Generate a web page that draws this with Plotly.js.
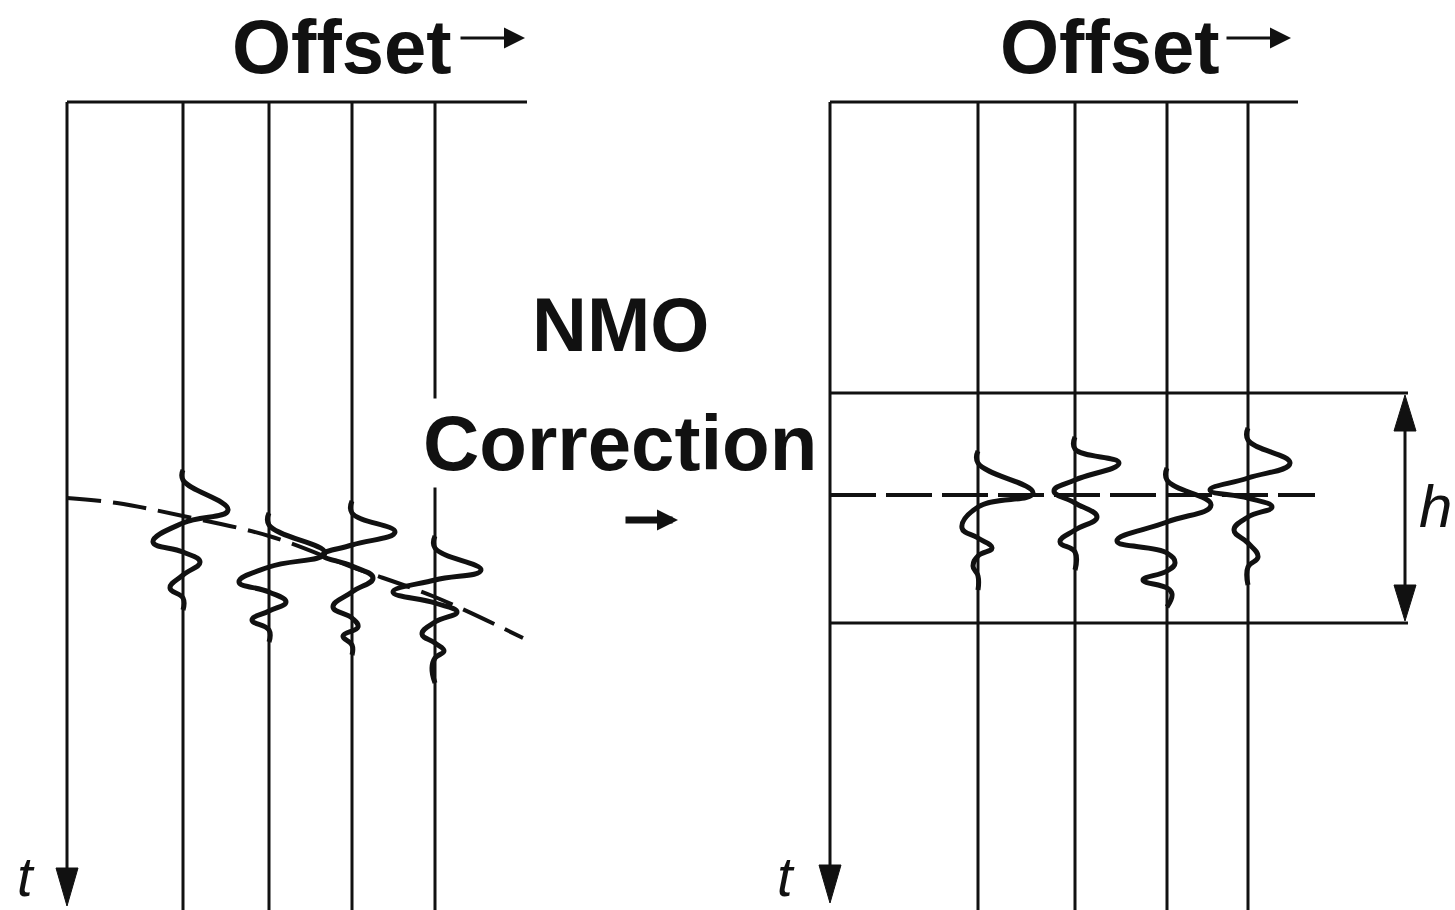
<!DOCTYPE html>
<html><head><meta charset="utf-8">
<script src="https://cdn.plot.ly/plotly-3.0.1.min.js"></script>
<style>html,body{margin:0;padding:0;background:#fff}#chart{width:1455px;height:910px}</style>
</head><body><div id="chart"></div>
<script>
// ================= DATA =================
// Offsets of the four receiver traces (same units as the offset axis)
const leftTraceOffsets  = [116, 202, 285, 368];
const rightTraceOffsets = [148, 245, 337, 418];
const leftOffsetMax  = 460;
const rightOffsetMax = 468;
const timeMax = 808;
const timeArrowTip = [804, 801];

// Left (before NMO): hyperbolic reflection event (dashed)
const leftEventOffsets = [0, 50, 116, 202, 285, 368, 456];
const leftEventTimes   = [396, 401, 414, 434, 465, 495, 536];

// Right (after NMO): flat event and the time window h
const rightEventTime = 393;
const rightEventEnd  = 485;
const windowTop = 291;
const windowBottom = 521;
const windowEnd = 578;
const windowArrowOffset = 575;

// Wavelet key points: times and amplitudes for each trace
const leftWaveTimes = [
  [368,378,408,421,440,450,460,473,486,496,508],
  [411,423,451,465,480,490,500,509,518,528,540],
  [399,411,430,443,453,464,476,490,505,516,525,534,543,553],
  [434,446,468,478,490,501,510,520,532,541,549,556,566,581]
];
const leftWaveAmps = [
  [0,0,45,0,-30,0,17,0,-13,0,0],
  [0,0,56,0,-30,0,17,0,-17,0,0],
  [0,0,43,0,-29,0,21,0,-19,0,6,-9,0,0],
  [0,0,46,0,-42,0,22,0,-13,0,9,0,-3,0]
];
const rightWaveTimes = [
  [349,361,391,405,426,436,446,454,464,474,488],
  [335,347,361,378,389,401,415,428,440,450,468],
  [366,378,403,420,439,451,461,469,478,486,492,505],
  [326,338,361,376,388,396,405,415,428,441,455,465,483]
];
const rightWaveAmps = [
  [0,0,55,0,-16,0,14,0,-5,0,0],
  [0,0,44,0,-21,0,22,0,-15,0,0],
  [0,0,44,0,-50,0,8,0,-24,0,5,0],
  [0,0,42,0,-38,0,24,0,-14,0,10,0,0]
];

// Text labels
const offsetLabel = 'Offset';
const titleLines = ['NMO', 'Correction'];
const timeLabel = 't';
const windowLabel = 'h';

// ================= DRAWING =================
const W = 1455, H = 910;
const INK = '#111';
const FONT = 'Liberation Sans, Arial, Helvetica, sans-serif';
const traces = [];

function line(xs, ys, xa, ya, width, dash) {
  traces.push({x: xs, y: ys, xaxis: xa, yaxis: ya, mode: 'lines', hoverinfo: 'skip',
    line: {color: INK, width: width, dash: dash || 'solid'}});
}
function wavelet(off, times, amps, xa, ya) {
  traces.push({x: amps.map(a => off + a), y: times, xaxis: xa, yaxis: ya, mode: 'lines',
    hoverinfo: 'skip', line: {color: INK, width: 5, shape: 'spline', smoothing: 1.3}});
}
function head(x, t, dir, len, hw, xa, ya) {
  const b = dir === 'down' ? t - len : t + len;
  traces.push({x: [x - hw, x + hw, x, x - hw], y: [b, b, t, b], xaxis: xa, yaxis: ya,
    mode: 'lines', fill: 'toself', fillcolor: INK, hoverinfo: 'skip',
    line: {color: INK, width: 1}});
}

// ---- left panel ----
line([0, 0], [0, timeArrowTip[0] - 20], 'x', 'y', 3);
head(0, timeArrowTip[0], 'down', 38, 11, 'x', 'y');
line([0, leftOffsetMax], [0, 0], 'x', 'y', 3);
leftTraceOffsets.forEach(o => line([o, o], [0, timeMax], 'x', 'y', 3));
line(leftEventOffsets, leftEventTimes, 'x', 'y', 4, '34px,12px');
traces[traces.length - 1].line.shape = 'spline';
leftTraceOffsets.forEach((o, i) => wavelet(o, leftWaveTimes[i], leftWaveAmps[i], 'x', 'y'));

// ---- right panel ----
line([0, 0], [0, timeArrowTip[1] - 20], 'x2', 'y2', 3);
head(0, timeArrowTip[1], 'down', 38, 11, 'x2', 'y2');
line([0, rightOffsetMax], [0, 0], 'x2', 'y2', 3);
rightTraceOffsets.forEach(o => line([o, o], [0, timeMax], 'x2', 'y2', 3));
line([0, windowEnd], [windowTop, windowTop], 'x2', 'y2', 3);
line([0, windowEnd], [windowBottom, windowBottom], 'x2', 'y2', 3);
line([0, rightEventEnd], [rightEventTime, rightEventTime], 'x2', 'y2', 4, '46px,10px');
line([windowArrowOffset, windowArrowOffset], [windowTop + 20, windowBottom - 20], 'x2', 'y2', 3);
head(windowArrowOffset, windowTop + 2, 'up', 36, 11, 'x2', 'y2');
head(windowArrowOffset, windowBottom - 2, 'down', 36, 11, 'x2', 'y2');
rightTraceOffsets.forEach((o, i) => wavelet(o, rightWaveTimes[i], rightWaveAmps[i], 'x2', 'y2'));

// ---- annotations (paper coords from pixel positions) ----
const px = v => v / W, py = v => 1 - v / H;
const txt = (text, x, y, size, xanchor, extra) => Object.assign({
  text: text, xref: 'paper', yref: 'paper', x: px(x), y: py(y), xanchor: xanchor,
  yanchor: 'middle', showarrow: false, font: {family: FONT, size: size, color: INK}
}, extra || {});
const arrowAnn = (x, y, ax, width, size) => ({
  text: '', xref: 'paper', yref: 'paper', x: px(x), y: py(y), ax: ax, ay: 0,
  showarrow: true, arrowhead: 2, arrowwidth: width, arrowsize: size, arrowcolor: INK
});

const annotations = [
  txt('<b>' + offsetLabel + '</b>', 230, 46, 76, 'left'),
  arrowAnn(525, 38, -66, 3, 1.4),
  txt('<b>' + offsetLabel + '</b>', 998, 46, 76, 'left'),
  arrowAnn(1291, 38, -66, 3, 1.4),
  txt('<b>' + titleLines[0] + '</b>', 620, 324, 76, 'center'),
  txt('<b>' + titleLines[1] + '</b>', 620, 443, 78, 'center',
      {bgcolor: '#ffffff', borderpad: 0}),
  arrowAnn(678, 520, -54, 7, 0.6),
  txt('<i>' + timeLabel + '</i>', 26, 876, 56, 'center'),
  txt('<i>' + timeLabel + '</i>', 786, 876, 56, 'center'),
  txt('<i>' + windowLabel + '</i>', 1417, 506, 60, 'left')
];

const axBase = {visible: false, showgrid: false, zeroline: false, fixedrange: true};
const layout = {
  width: W, height: H, margin: {l: 0, r: 0, t: 0, b: 0},
  paper_bgcolor: '#ffffff', plot_bgcolor: 'rgba(0,0,0,0)', showlegend: false,
  xaxis:  Object.assign({}, axBase, {domain: [0, 560 / W], range: [-67, 493]}),
  yaxis:  Object.assign({}, axBase, {domain: [0, 1], range: [timeMax, -102]}),
  xaxis2: Object.assign({}, axBase, {domain: [580 / W, 1], range: [-250, 625], anchor: 'y2'}),
  yaxis2: Object.assign({}, axBase, {domain: [0, 1], range: [timeMax, -102], anchor: 'x2'}),
  annotations: annotations
};
Plotly.newPlot('chart', traces, layout, {staticPlot: true, displayModeBar: false});
</script>
</body></html>
